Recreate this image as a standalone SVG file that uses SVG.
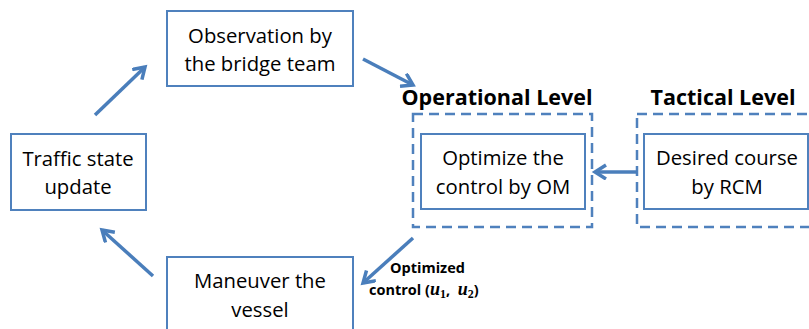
<svg xmlns="http://www.w3.org/2000/svg" width="809" height="329" viewBox="0 0 809 329">
<style>
.box{fill:#fff;stroke:#4f81bd;stroke-width:2}
.dash{fill:none;stroke:#4f81bd;stroke-width:2.5;stroke-dasharray:10 6}
.t{font-family:"Open Sans","Noto Sans",sans-serif;font-size:20.3px;fill:#000;text-anchor:middle}
.h{font-family:"Open Sans","Noto Sans",sans-serif;font-size:21.5px;font-weight:bold;fill:#000;text-anchor:middle}
.lbl{font-family:"Open Sans","Noto Sans",sans-serif;font-size:14.5px;font-weight:bold;fill:#000}
.m{font-family:"Liberation Serif",serif;font-style:italic;font-weight:bold;font-size:18px}
.s{font-family:"Liberation Serif",serif;font-weight:bold;font-size:12px}
.c{fill:none;stroke:#4a7ebb;stroke-width:3.5}
</style>
<defs>
<marker id="ah" markerUnits="userSpaceOnUse" markerWidth="20" markerHeight="20" refX="12" refY="8" orient="auto">
<polyline points="1,1 12,8 1,15" fill="none" stroke="#4a7ebb" stroke-width="3.5" stroke-linecap="butt"/>
</marker>
</defs>
<g id="observation">
<rect class="box" x="167" y="11" width="186" height="75"/>
<text class="t" x="260" y="43">Observation by</text>
<text class="t" x="260" y="71">the bridge team</text>
</g>
<g id="traffic">
<rect class="box" x="11" y="134" width="135" height="76"/>
<text class="t" x="78" y="166">Traffic state</text>
<text class="t" x="78" y="194">update</text>
</g>
<g id="maneuver">
<rect class="box" x="167" y="257" width="186" height="80"/>
<text class="t" x="260" y="288">Maneuver the</text>
<text class="t" x="260" y="317">vessel</text>
</g>
<g id="operational">
<text class="h" x="497" y="105">Operational Level</text>
<rect class="dash" x="413" y="114" width="179" height="113"/>
<rect class="box" x="421" y="134" width="164" height="75"/>
<text class="t" x="503" y="165">Optimize the</text>
<text class="t" x="503" y="194">control by OM</text>
</g>
<g id="tactical">
<text class="h" x="723" y="105">Tactical Level</text>
<rect class="dash" x="637" y="114" width="190" height="113"/>
<rect class="box" x="644" y="134" width="164" height="75"/>
<text class="t" x="727" y="165">Desired course</text>
<text class="t" x="727" y="194">by RCM</text>
</g>
<g id="connectors">
<line class="c" x1="95" y1="115" x2="145" y2="67" marker-end="url(#ah)"/>
<line class="c" x1="363" y1="59" x2="413" y2="85" marker-end="url(#ah)"/>
<line class="c" x1="637" y1="172" x2="595" y2="172" marker-end="url(#ah)"/>
<line class="c" x1="413" y1="238" x2="363" y2="283" marker-end="url(#ah)"/>
<line class="c" x1="153" y1="276" x2="102" y2="230" marker-end="url(#ah)"/>
<text class="lbl" x="390" y="273">Optimized</text>
<text class="lbl" x="369" y="295" xml:space="preserve">control (<tspan class="m">u</tspan><tspan class="s" dy="3">1</tspan><tspan dy="-3">,  </tspan><tspan class="m">u</tspan><tspan class="s" dy="3">2</tspan><tspan dy="-3">)</tspan></text>
</g>
</svg>
